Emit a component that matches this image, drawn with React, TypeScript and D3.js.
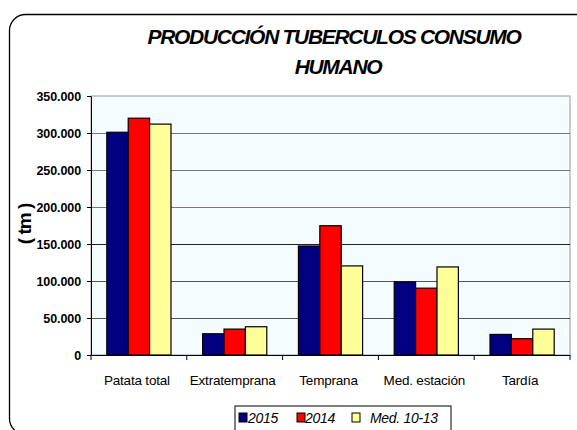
import { useEffect, useRef } from 'react';
import * as d3 from 'd3';

const categories = ['Patata total', 'Extratemprana', 'Temprana', 'Med. estación', 'Tardía'];
const seriesNames = ['2015', '2014', 'Med. 10-13'];
const values2015 = [301000, 28700, 147300, 98800, 27800];
const values2014 = [320000, 35000, 174700, 90300, 22000];
const valuesMed = [312000, 38200, 120400, 119000, 35000];
const yTicks = [0, 50000, 100000, 150000, 200000, 250000, 300000, 350000];
const colors = ['#000080', '#ff0000', '#ffff99'];

export default function App() {
  const ref = useRef<SVGSVGElement>(null);

  useEffect(() => {
    const width = 577;
    const height = 430;
    const margin = { top: 96, right: 7, bottom: 75, left: 91 };

    const svg = d3.select(ref.current);
    svg.selectAll('*').remove();

    // outer chart border
    svg.append('rect')
      .attr('x', 9.5).attr('y', 14.5)
      .attr('width', 600).attr('height', 420)
      .attr('rx', 16).attr('ry', 16)
      .attr('fill', '#ffffff')
      .attr('stroke', '#000').attr('stroke-width', 1.3);

    const x = d3.scaleBand()
      .domain(categories)
      .range([margin.left, width - margin.right]);

    const bandW = x.bandwidth();
    const xs = d3.scaleBand()
      .domain(seriesNames)
      .range([bandW * 0.165, bandW * 0.835]);

    const y = d3.scaleLinear()
      .domain([0, 350000])
      .range([height - margin.bottom, margin.top]);

    // plot area
    svg.append('rect')
      .attr('x', margin.left).attr('y', margin.top)
      .attr('width', width - margin.right - margin.left)
      .attr('height', y(0) - margin.top)
      .attr('fill', '#f4fcff')
      .attr('stroke', '#9a9a9a');

    svg.append('g')
      .selectAll('line')
      .data(yTicks.slice(1, -1))
      .join('line')
      .attr('x1', margin.left).attr('x2', width - margin.right)
      .attr('y1', d => Math.round(y(d)) + 0.5).attr('y2', d => Math.round(y(d)) + 0.5)
      .attr('stroke', d => (d === 150000 ? '#222' : d < 150000 ? '#555' : '#777'))
      .attr('stroke-width', 1);

    const fmt = (v: number) => (v === 0 ? '0' : d3.format(',')(v).replace(/,/g, '.'));

    const yAxis = svg.append('g')
      .attr('transform', `translate(${margin.left},0)`)
      .call(d3.axisLeft(y).tickValues(yTicks).tickSize(4).tickSizeOuter(0).tickPadding(6).tickFormat(d => fmt(d as number)));
    yAxis.select('.domain').attr('stroke', '#000');
    yAxis.selectAll('text')
      .attr('font-family', 'Liberation Sans, Arial, sans-serif')
      .attr('font-size', 12.5).attr('font-weight', 'bold').attr('fill', '#000')
      .attr('letter-spacing', -0.1);

    const series = [values2015, values2014, valuesMed];
    const groups = svg.append('g')
      .selectAll('g')
      .data(categories)
      .join('g')
      .attr('transform', c => `translate(${x(c)},0)`);

    groups.selectAll('rect')
      .data((_, i) => series.map((s, k) => ({ name: seriesNames[k], v: s[i], k })))
      .join('rect')
      .attr('x', d => xs(d.name)!)
      .attr('y', d => y(d.v))
      .attr('width', xs.bandwidth())
      .attr('height', d => y(0) - y(d.v))
      .attr('fill', d => colors[d.k])
      .attr('stroke', '#000').attr('stroke-width', 1.2);

    const xAxis = svg.append('g')
      .attr('transform', `translate(0,${y(0)})`)
      .call(d3.axisBottom(x).tickSize(0).tickPadding(20));
    xAxis.select('.domain').attr('stroke', '#000');
    xAxis.selectAll('text')
      .attr('font-family', 'Liberation Sans, Arial, sans-serif')
      .attr('font-size', 13.5).attr('fill', '#000')
      .attr('letter-spacing', -0.2)
      .attr('dx', -2);

    // category separators below axis
    svg.append('g')
      .selectAll('line')
      .data([...categories.map(c => x(c)!), width - margin.right])
      .join('line')
      .attr('x1', d => d).attr('x2', d => d)
      .attr('y1', y(0)).attr('y2', y(0) + 5)
      .attr('stroke', '#000');

    // title
    const title = svg.append('text')
      .attr('text-anchor', 'middle')
      .attr('font-family', 'Liberation Sans, Arial, sans-serif')
      .attr('font-size', 21).attr('font-weight', 'bold').attr('font-style', 'italic')
      .attr('letter-spacing', -1.3);
    title.append('tspan').attr('x', 334).attr('y', 44).text('PRODUCCIÓN TUBERCULOS CONSUMO');
    title.append('tspan').attr('x', 338).attr('y', 74).text('HUMANO');

    // y title
    svg.append('text')
      .attr('transform', 'translate(31,224) rotate(-90)')
      .attr('text-anchor', 'middle')
      .attr('font-family', 'Liberation Sans, Arial, sans-serif')
      .attr('font-size', 19).attr('font-weight', 'bold')
      .attr('letter-spacing', -1)
      .text('( tm )');

    // legend
    const lg = svg.append('g').attr('transform', 'translate(235,406)');
    lg.append('rect')
      .attr('width', 216).attr('height', 30)
      .attr('fill', '#fff').attr('stroke', '#000');
    const items = [
      { name: seriesNames[0], sx: 4, tx: 13 },
      { name: seriesNames[1], sx: 62, tx: 70 },
      { name: seriesNames[2], sx: 117, tx: 135 },
    ];
    items.forEach((it, k) => {
      lg.append('rect')
        .attr('x', it.sx).attr('y', 7)
        .attr('width', 8).attr('height', 9)
        .attr('fill', colors[k]).attr('stroke', '#000');
      lg.append('text')
        .attr('x', it.tx).attr('y', 16.5)
        .attr('font-family', 'Liberation Sans, Arial, sans-serif')
        .attr('font-size', 14).attr('font-style', 'italic')
        .attr('letter-spacing', -0.3)
        .text(it.name);
    });
  }, []);

  return (
    <svg ref={ref} width={577} height={430} style={{ position: 'absolute', left: 0, top: 0, background: '#fff' }} />
  );
}
